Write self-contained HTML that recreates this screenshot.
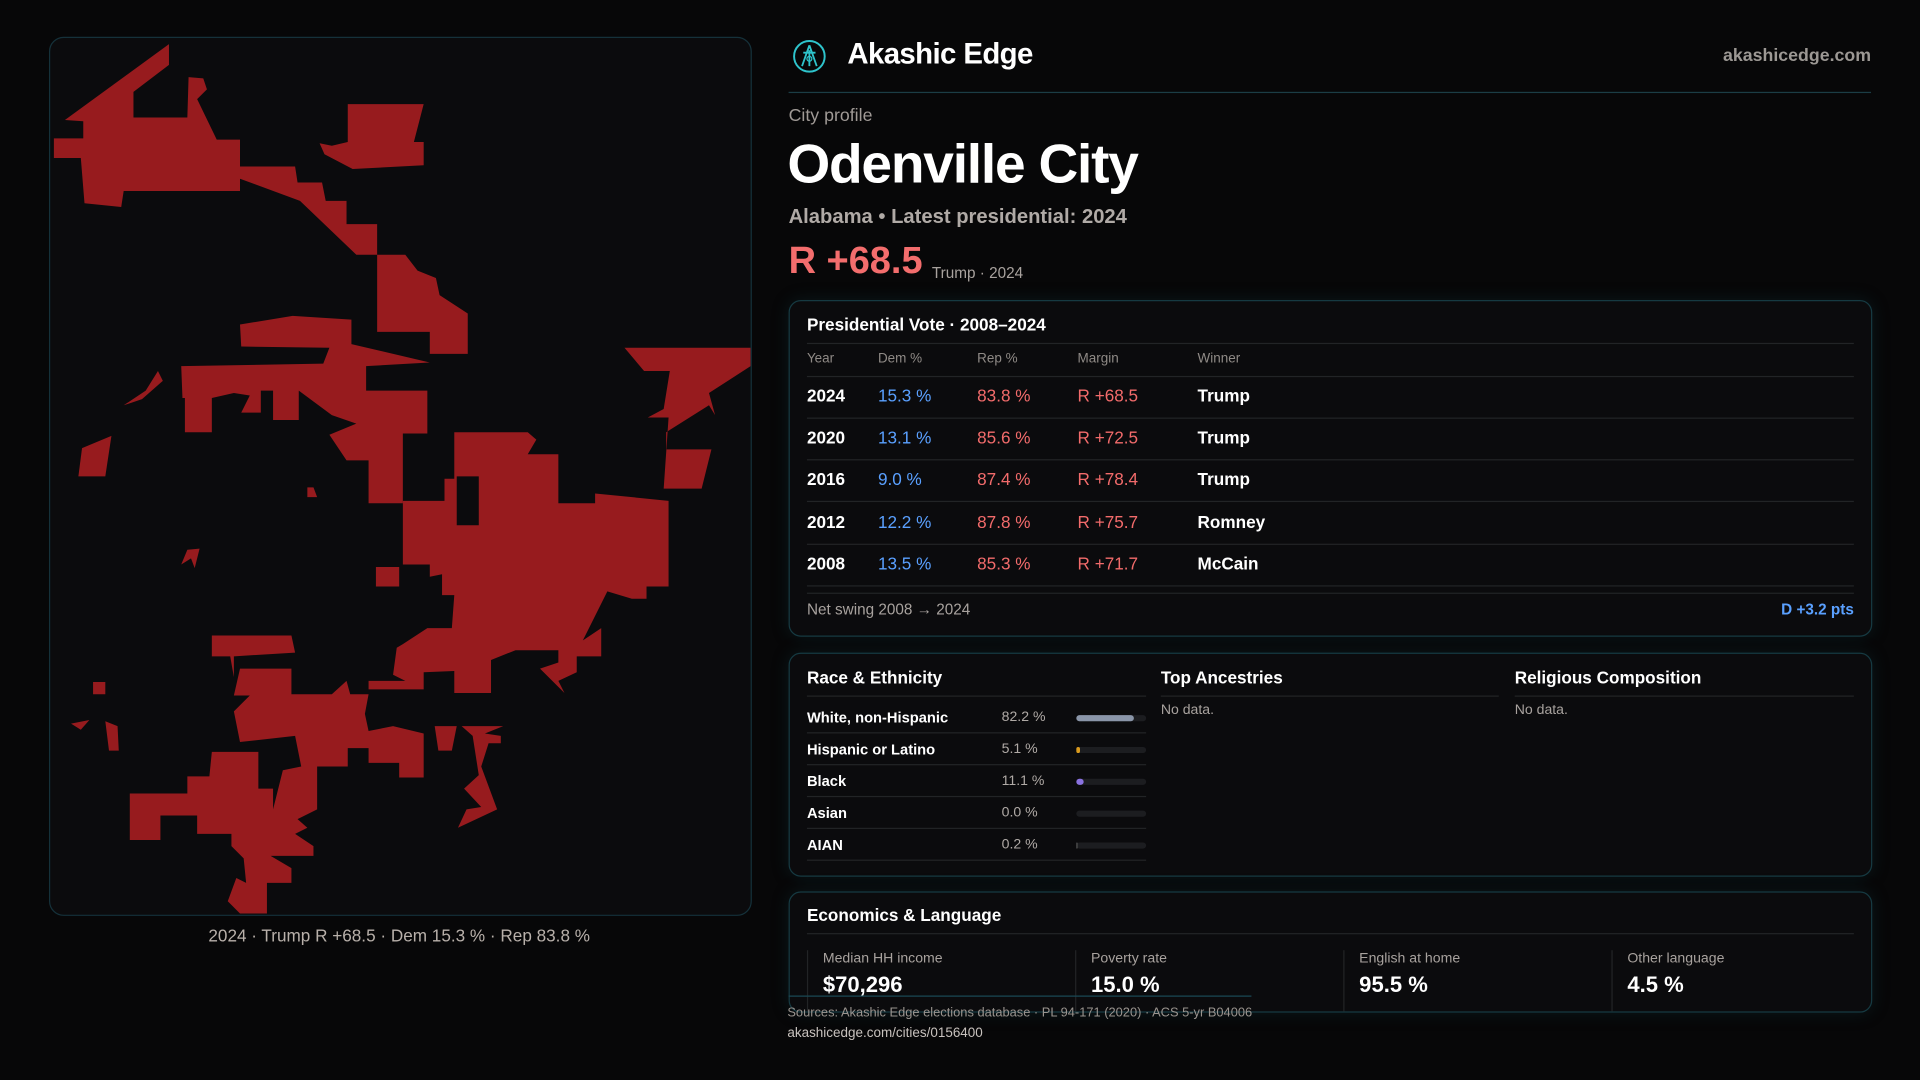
<!DOCTYPE html>
<html><head><meta charset="utf-8">
<style>
html,body{margin:0;padding:0;background:#070708;width:1920px;height:1080px;overflow:hidden}
#stage{position:absolute;left:0;top:0;width:1568px;height:882px;transform:scale(1.2244898);transform-origin:0 0;font-family:"Liberation Sans",sans-serif;color:#fff}
.a{position:absolute;white-space:nowrap}
.card{position:absolute;border:1px solid #163a42;border-radius:10px;background:#0b0b0d;box-shadow:0 0 14px rgba(20,70,80,.25)}
.hl{position:absolute;height:1px;background:#222426}
.g{color:#a8a29e}
.blue{color:#5aa0ff}.red{color:#f26b6b}
</style></head>
<body>
<div id="stage">

<div class="card" style="left:40px;top:30px;width:572px;height:716px;border-radius:12px;box-shadow:none;border-color:#15313a">
<svg width="572" height="716" viewBox="40 30 572 716" style="position:absolute;left:0;top:0">
<g fill="#971b1e">
<polygon points="52,97 137,35 137,52 108,74 108,95 152,95 153,62 165,63 168,72 160,80 176,113 195,113 195,135 240,135 242,148 262,148 265,163 282,163 282,182 307,182 307,207 330,207 340,220 355,226 358,240 381,255 381,288 350,288 350,270 307,270 307,207 290,207 244,163 195,145 195,155 100,155 98,168 68,165 65,128 43,128 43,112 67,112 67,98"/>
<polygon points="283,84 345,84 337,115 345,115 345,134 287,137 264,125 260,116 270,118 283,115"/>
<polygon points="509,283 612,283 612,298 578,320 583,338 578,330 543,352 543,366 580,366 572,398 541,398 545,340 528,340 541,333 546,302 525,302"/>
<polygon points="147,298 263,296 268,283 196,282 195,264 238,257 286,260 286,280 350,295 298,298 298,318 348,318 348,353 328,353 328,410 300,410 300,375 282,375 268,354 290,345 270,338 243,318 243,342 222,342 222,318 212,318 212,336 196,336 203,322 190,320 172,324 172,352 150,352 150,324 148,324"/>
<polygon points="370,352 430,352 437,358 430,370 455,370 455,410 485,410 485,402 545,408 545,478 527,478 527,488 515,488 495,482 475,522 490,512 490,535 470,535 470,548 455,555 460,565 440,545 455,540 455,530 420,530 400,538 400,565 370,565 370,547 345,548 345,562 300,562 300,555 330,555 320,550 323,528 328,525 348,512 368,512 370,485 360,485 360,468 350,470 350,460 328,460 328,408 362,408 362,390 370,390"/>
<polygon points="195,545 237,545 237,566 270,566 282,555 285,566 300,566 297,582 300,596 320,592 345,598 345,634 325,634 325,622 300,622 300,610 283,610 283,625 258,625 258,660 242,668 250,675 240,680 255,690 255,698 220,698 237,708 237,720 217,720 217,745 195,745 185,735 192,716 200,720 198,700 188,690 188,680 160,680 160,665 130,665 130,685 105,685 105,647 152,647 152,633 170,633 172,613 210,613 210,643 222,643 222,660 230,628 245,625 240,600 195,605 190,580 203,567 190,567"/>
<polygon points="172,518 237,518 240,532 190,535 190,552 187,535 172,535"/>
<polygon points="63,388 66,365 90,355 85,388"/>
<polygon points="100,330 118,318 128,302 132,310 115,325"/>
<polygon points="75,556 85,556 85,566 75,566"/>
<polygon points="57,590 72,587 65,595"/>
<polygon points="85,588 95,592 96,612 88,612"/>
<polygon points="147,460 152,448 162,447 158,463 155,455"/>
<polygon points="354,592 372,592 368,612 357,612"/>
<polygon points="376,592 410,592 395,598 408,600 408,606 398,606 392,625 405,660 373,675 380,660 392,658 378,643 390,632 385,600"/>
<polygon points="306,462 325,462 325,478 306,478"/>
<polygon points="250,397 255,397 258,405 250,405"/>
</g>
<polygon points="372,388 390,388 390,428 372,428" fill="#0b0b0d"/>
</svg>
</div>
<div class="a g" style="left:40px;width:572px;text-align:center;top:756px;font-size:14px;color:#b8b0aa">2024 · Trump R +68.5 · Dem 15.3 % · Rep 83.8 %</div>

<svg class="a" style="left:647px;top:32px" width="28" height="28" viewBox="0 0 28 28"><circle cx="14" cy="14" r="12.5" fill="none" stroke="#2ec4cc" stroke-width="1.6"/><path d="M14 5 L8 22 M14 5 L20 22 M9 11 L19 11 M14 9 L14 22" stroke="#2ec4cc" stroke-width="1.5" fill="none"/><circle cx="14" cy="16" r="2" fill="none" stroke="#2ec4cc"/></svg>
<div class="a" style="left:692px;top:31px;font-size:24px;font-weight:bold;letter-spacing:-0.5px">Akashic Edge</div>
<div class="a g" style="right:40px;top:38px;font-size:14.5px;font-weight:bold;color:#9c9894">akashicedge.com</div>
<div class="hl" style="left:644px;top:75px;width:884px;background:#1b3d45"></div>

<div class="a g" style="left:644px;top:87px;font-size:14.5px;color:#a09a96">City profile</div>
<div class="a" style="left:643px;top:108px;font-size:45px;font-weight:bold;letter-spacing:-1px">Odenville City</div>
<div class="a g" style="left:644px;top:168px;font-size:16.5px;font-weight:bold;color:#b0aaa6">Alabama • Latest presidential: 2024</div>
<div class="a red" style="left:644px;top:195px;font-size:31px;font-weight:bold;color:#f36d6d">R +68.5</div>
<div class="a g" style="left:761px;top:216px;font-size:12.5px">Trump · 2024</div>

<div class="card" style="left:644px;top:245px;width:883px;height:273px">
<div class="a" style="left:14px;top:11px;font-size:14px;font-weight:bold">Presidential Vote · 2008–2024</div>
<div class="hl" style="left:14px;top:34px;width:855px"></div>
<div id="vote-table"></div>
<div class="hl" style="left:14px;top:238px;width:855px"></div>
<div class="a g" style="left:14px;top:245px;font-size:12.5px">Net swing 2008 → 2024</div>
<div class="a blue" style="right:14px;top:245px;font-size:12.5px;font-weight:bold">D +3.2 pts</div>
</div>

<div class="card" style="left:644px;top:533px;width:883px;height:181px">
<div class="a" style="left:14px;top:11px;font-size:14px;font-weight:bold">Race &amp; Ethnicity</div>
<div class="hl" style="left:14px;top:34px;width:277px"></div>
<div id="race-rows"></div>
<div class="a" style="left:303px;top:11px;font-size:14px;font-weight:bold">Top Ancestries</div>
<div class="hl" style="left:303px;top:34px;width:276px"></div>
<div class="a g" style="left:303px;top:40px;font-size:11.5px">No data.</div>
<div class="a" style="left:592px;top:11px;font-size:14px;font-weight:bold">Religious Composition</div>
<div class="hl" style="left:592px;top:34px;width:277px"></div>
<div class="a g" style="left:592px;top:40px;font-size:11.5px">No data.</div>
</div>

<div class="card" style="left:644px;top:728px;width:883px;height:97px">
<div class="a" style="left:14px;top:10px;font-size:14px;font-weight:bold">Economics &amp; Language</div>
<div class="hl" style="left:14px;top:33px;width:855px"></div>
<div id="econ-stats"></div>
</div>
<div class="hl" style="left:644px;top:813px;width:378px;background:#1b4a55"></div>
<div class="a g" style="left:643px;top:821px;font-size:10.5px;color:#9a948f">Sources: Akashic Edge elections database · PL 94-171 (2020) · ACS 5-yr B04006</div>
<div class="a" style="left:643px;top:838px;font-size:11px;color:#c8c2be">akashicedge.com/cities/0156400</div>
</div>

<script>
const years=["2024","2020","2016","2012","2008"];
const demPct=[15.3,13.1,9.0,12.2,13.5];
const repPct=[83.8,85.6,87.4,87.8,85.3];
const margins=["R +68.5","R +72.5","R +78.4","R +75.7","R +71.7"];
const winners=["Trump","Trump","Trump","Romney","McCain"];
const voteHeaders=["Year","Dem %","Rep %","Margin","Winner"];

const raceLabels=["White, non-Hispanic","Hispanic or Latino","Black","Asian","AIAN"];
const raceValues=[82.2,5.1,11.1,0.0,0.2];
const raceColors=["#8a95a8","#d99a1e","#8a72e0","#555","#555"];

const econLabels=["Median HH income","Poverty rate","English at home","Other language"];
const econValues=["$70,296","15.0 %","95.5 %","4.5 %"];

function mk(parent,css,txt){const d=document.createElement('div');d.className='a';d.style.cssText=css;if(txt!==undefined)d.textContent=txt;parent.appendChild(d);return d;}

const vt=document.getElementById('vote-table');
const colX=[14,72,153,235,333];
voteHeaders.forEach((h,i)=>{const e=mk(vt,`left:${colX[i]}px;top:41px;font-size:11px;color:#8f8a86`,h);

});
mk(vt,'left:14px;top:61px;width:855px;height:1px;background:#222426');
const rowY=i=>69+i*34.2;
years.forEach((y,i)=>{
  const t=rowY(i);
  const vals=[y,demPct[i].toFixed(1)+' %',repPct[i].toFixed(1)+' %',margins[i],winners[i]];
  const cols=['#fff','#5aa0ff','#f26b6b','#f26b6b','#fff'];
  vals.forEach((v,j)=>{const e=mk(vt,`left:${colX[j]}px;top:${t}px;font-size:14px;font-weight:${j==0||j==4?'bold':'normal'};color:${cols[j]}`,v);
  
  });
  mk(vt,`left:14px;top:${t+26}px;width:855px;height:1px;background:#222426`);
});

const rr=document.getElementById('race-rows');
const barX=v=>57*v/100;
raceLabels.forEach((l,i)=>{
  const t=45+i*26;
  const a=mk(rr,`left:14px;top:${t}px;font-size:12px;font-weight:bold`,l);
  
  
  const b=mk(rr,`left:173px;top:${t+1}px;font-size:11.5px;color:#b0aaa6`,raceValues[i].toFixed(1)+' %');
  
  
  mk(rr,`left:234px;top:${t+5}px;width:57px;height:5px;border-radius:3px;background:#1c1d20`);
  const bar=mk(rr,`left:234px;top:${t+5}px;width:${Math.max(barX(raceValues[i]),raceValues[i]>1?2:0)}px;height:5px;border-radius:3px;background:${raceColors[i]}`);
  
  
  mk(rr,`left:14px;top:${t+19}px;width:277px;height:1px;background:#222426`);
});

const es=document.getElementById('econ-stats');
econLabels.forEach((l,i)=>{
  const x=14+i*219;
  mk(es,`left:${x}px;top:47px;width:1px;height:50px;background:#222426`);
  const a=mk(es,`left:${x+13}px;top:48px;font-size:11.5px;color:#a8a29e`,l);
  
  
  const b=mk(es,`left:${x+13}px;top:65px;font-size:18px;font-weight:bold`,econValues[i]);
  
  
});
</script>
</body></html>
